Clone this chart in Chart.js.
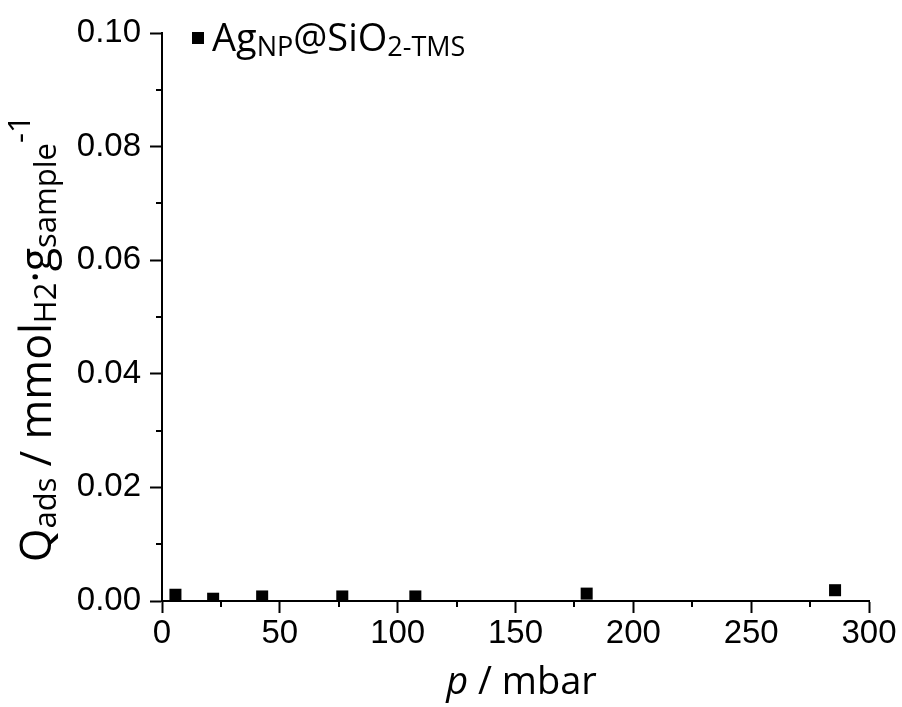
<!DOCTYPE html>
<html>
<head>
<meta charset="utf-8">
<script src="https://cdn.jsdelivr.net/npm/chart.js@4/dist/chart.umd.min.js"></script>
<style>
    html, body { margin: 0; padding: 0; background: #fff; }
    #wrap { width: 902px; height: 707px; }
</style>
</head>
<body>
<div id="wrap"><canvas id="chart" width="902" height="707"></canvas></div>
<script>
// H2 uptake of Ag nanoparticles on TMS-capped silica
const pressure = [5.7, 21.7, 42.5, 76.5, 107.5, 180.2, 285.6];
const qAds = [0.0011, 0.0004, 0.0008, 0.0008, 0.0008, 0.0013, 0.0019];

const xMajor = [0, 50, 100, 150, 200, 250, 300];
const xMinor = [25, 75, 125, 175, 225, 275];
const yMajor = [0, 0.02, 0.04, 0.06, 0.08, 0.10];
const yMinor = [0.01, 0.03, 0.05, 0.07, 0.09];

const seriesName = [['Ag', 0], ['NP', 1], ['@SiO', 0], ['2-TMS', 1]];

const TITLE_FONT = '"Open Sans"';

// draw a run of text pieces; mode 0 normal, 1 subscript, 2 superscript
function richText(ctx, parts, x, y, size, draw) {
    let cx = x;
    for (let i = 0; i < parts.length; i++) {
        let p = parts[i];
        let s = p[1] === 0 ? size : Math.round(size * 0.72);
        let dy = p[1] === 1 ? size * 0.12 : (p[1] === 2 ? -size * 0.5 : 0);
        ctx.font = (p[2] || '') + ' ' + s + 'px ' + TITLE_FONT;
        if (draw) ctx.fillText(p[0], cx, y + dy);
        cx += ctx.measureText(p[0]).width;
    }
    return cx - x;
}

const decor = {
    id: 'decor',
    afterDraw(chart) {
        const ctx = chart.ctx;
        const xs = chart.scales.x, ys = chart.scales.y;
        const area = chart.chartArea;
        ctx.save();
        ctx.strokeStyle = '#000';
        ctx.fillStyle = '#000';
        ctx.lineWidth = 2;

        // minor ticks
        ctx.beginPath();
        xMinor.forEach(v => {
            let px = Math.round(xs.getPixelForValue(v));
            ctx.moveTo(px, area.bottom);
            ctx.lineTo(px, area.bottom + 6);
        });
        yMinor.forEach(v => {
            let py = Math.round(ys.getPixelForValue(v));
            ctx.moveTo(area.left, py);
            ctx.lineTo(area.left - 6, py);
        });
        ctx.stroke();

        // legend
        ctx.textBaseline = 'alphabetic';
        ctx.textAlign = 'left';
        ctx.fillRect(192, 32, 12, 12);
        richText(ctx, seriesName, 212, 51, 38, true);

        // x title
        const xt = [['p', 0, 'italic'], [' / mbar', 0]];
        let w = richText(ctx, xt, 0, 0, 38, false);
        richText(ctx, xt, (area.left + area.right) / 2 - w / 2 + 6, 694, 38, true);

        // y title, rotated
        const yt = [['Q', 0], ['ads', 1], [' / mmol', 0], ['H2', 1], ['\u00b7g', 0], ['sample', 1], ['-1', 2]];
        ctx.translate(51, 562);
        ctx.rotate(-Math.PI / 2);
        richText(ctx, yt, 0, 0, 43, true);
        ctx.restore();
    }
};

const tickFont = { family: '"Liberation Sans", Arial, sans-serif', size: 33 };

new Chart(document.getElementById('chart'), {
    type: 'scatter',
    data: {
        datasets: [{
            data: pressure.map((p, i) => ({ x: p, y: qAds[i] })),
            pointStyle: 'rect',
            pointRadius: 8.5,
            pointHoverRadius: 8.5,
            backgroundColor: '#000',
            borderColor: '#000',
            borderWidth: 0
        }]
    },
    options: {
        responsive: false,
        animation: false,
        events: [],
        layout: { padding: { left: 0, top: 33, right: 33, bottom: 0 } },
        plugins: { legend: { display: false }, tooltip: { enabled: false } },
        scales: {
            x: {
                type: 'linear',
                min: 0,
                max: 300,
                afterBuildTicks: s => { s.ticks = xMajor.map(v => ({ value: v })); },
                afterFit: s => { s.height = 106; },
                grid: { drawOnChartArea: false, tickLength: 12, tickWidth: 2, tickColor: '#000' },
                border: { color: '#000', width: 2 },
                ticks: { color: '#000', font: tickFont, padding: 1, maxRotation: 0 }
            },
            y: {
                min: 0,
                max: 0.1,
                afterBuildTicks: s => { s.ticks = yMajor.map(v => ({ value: v })); },
                afterFit: s => { s.width = 162; },
                grid: { drawOnChartArea: false, tickLength: 12, tickWidth: 2, tickColor: '#000' },
                border: { color: '#000', width: 2 },
                ticks: { color: '#000', font: tickFont, padding: 9, callback: v => v.toFixed(2) }
            }
        }
    },
    plugins: [decor]
});
</script>
</body>
</html>
